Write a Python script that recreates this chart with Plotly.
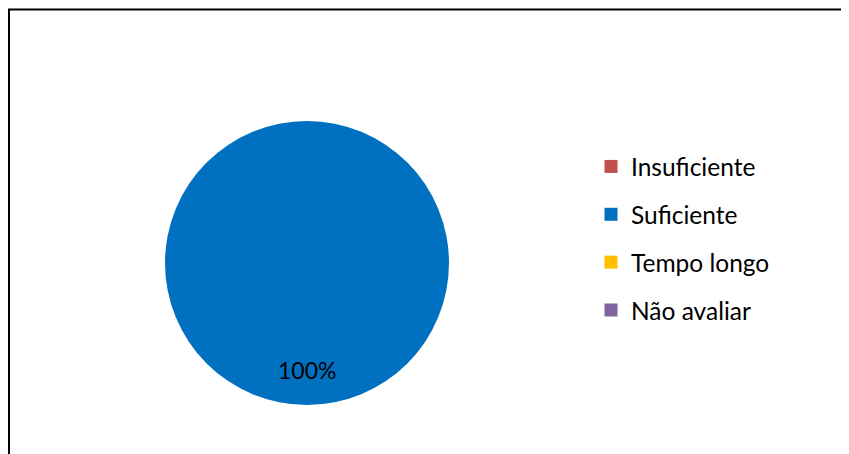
import plotly.graph_objects as go

categories = ["Insuficiente", "Suficiente", "Tempo longo", "Não avaliar"]
values = [0, 100, 0, 0]
colors = ["#C0504D", "#0070C0", "#FFC000", "#8064A2"]

W, H = 841, 446
FONT = "Lato"

fig = go.Figure()

fig.add_trace(go.Pie(
    labels=categories,
    values=values,
    marker=dict(colors=colors, line=dict(width=0)),
    textinfo="none",
    sort=False,
    direction="clockwise",
    showlegend=False,
    hoverinfo="label+percent",
    domain=dict(x=[157 / W, 441 / W], y=[1 - 397 / H, 1 - 113 / H]),
))

# legend entries
for cat, col in zip(categories, colors):
    fig.add_trace(go.Scatter(
        x=[None], y=[None], mode="markers",
        marker=dict(symbol="square", size=13, color=col),
        name=cat, legendgroup=cat, showlegend=True,
    ))

total = sum(values)
main = max(range(len(values)), key=lambda i: values[i])
pct_text = f"{round(100 * values[main] / total)}%"

fig.add_annotation(
    x=299 / W, y=1 - 362 / H, xref="paper", yref="paper",
    xanchor="center", yanchor="middle",
    text=pct_text, showarrow=False,
    font=dict(family=FONT, size=23, color="#000000"),
)

fig.add_shape(
    type="rect", xref="paper", yref="paper",
    x0=1 / W, x1=1.05, y0=-0.1, y1=1 - 1.5 / H,
    line=dict(color="#000000", width=2), fillcolor="rgba(0,0,0,0)",
)

fig.update_layout(
    width=W, height=H,
    margin=dict(l=0, r=0, t=0, b=0),
    paper_bgcolor="white", plot_bgcolor="white",
    xaxis=dict(visible=False), yaxis=dict(visible=False),
    legend=dict(
        x=583 / W, y=1 - 136 / H, xanchor="left", yanchor="top",
        traceorder="grouped", tracegroupgap=13,
        font=dict(family=FONT, size=24.5, color="#000000"),
        itemwidth=30,
    ),
    font=dict(family=FONT),
)

fig.write_html("out.html")
